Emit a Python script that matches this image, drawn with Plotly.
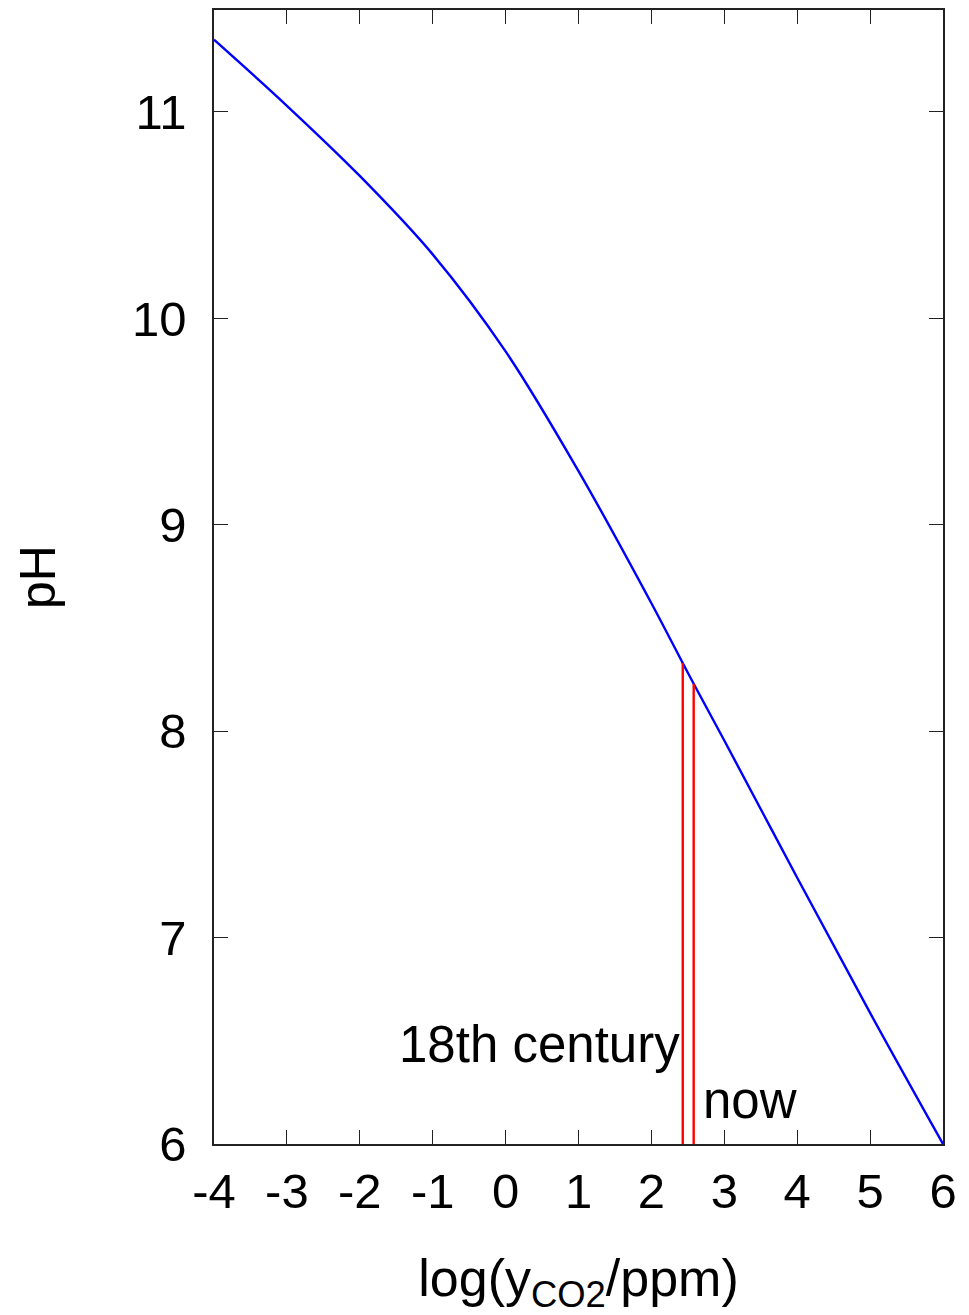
import plotly.graph_objects as go

# Data
log_co2 = [-4, -3, -2, -1, 0, 1, 2, 2.43, 2.58, 3, 4, 5, 6]
ph = [11.35, 11.03, 10.69, 10.31, 9.84, 9.26, 8.62, 8.33, 8.23, 7.955, 7.29, 6.635, 6.0]

marker_x = [2.43, 2.58]          # 18th century, now
marker_ph = [8.33, 8.23]
marker_labels = ["18th century", "now"]

x_ticks = [-4, -3, -2, -1, 0, 1, 2, 3, 4, 5, 6]
y_ticks = [6, 7, 8, 9, 10, 11]

FONT = "Liberation Sans, Arial, sans-serif"

fig = go.Figure()
fig.add_trace(go.Scatter(x=log_co2, y=ph, mode="lines",
                         line=dict(color="#0000ff", width=2.4, shape="spline", smoothing=1.0),
                         showlegend=False, hoverinfo="x+y"))
for mx, my in zip(marker_x, marker_ph):
    fig.add_trace(go.Scatter(x=[mx, mx], y=[6, my], mode="lines",
                             line=dict(color="#ff0000", width=2.4),
                             showlegend=False))

fig.add_annotation(x=marker_x[0], y=6.48, text=marker_labels[0], showarrow=False,
                   xanchor="right", yanchor="middle", xshift=-1,
                   font=dict(family=FONT, size=51, color="black"))
fig.add_annotation(x=marker_x[1], y=6.21, text=marker_labels[1], showarrow=False,
                   xanchor="left", yanchor="middle", xshift=7,
                   font=dict(family=FONT, size=51, color="black"))

axis_common = dict(showline=True, linecolor="#222222", linewidth=1.5, mirror="allticks",
                   ticks="inside", ticklen=14, tickwidth=1.2, tickcolor="#222222",
                   showgrid=False, zeroline=False,
                   tickfont=dict(family=FONT, size=49, color="black"))

fig.update_xaxes(range=[-4, 6], tickvals=x_ticks, ticktext=[str(v) for v in x_ticks],
                 ticklabelstandoff=3,
                 title=dict(text="log(y<sub>CO2</sub>/ppm)", standoff=47,
                            font=dict(family=FONT, size=52, color="black")),
                 **axis_common)
fig.update_yaxes(range=[6, 11.494], tickvals=y_ticks, ticktext=[str(v) for v in y_ticks],
                 ticklabelstandoff=16,
                 title=dict(text="pH", standoff=60,
                            font=dict(family=FONT, size=50, color="black")),
                 **axis_common)

fig.update_layout(width=969, height=1315,
                  margin=dict(l=214, r=26, t=10, b=171, autoexpand=False),
                  plot_bgcolor="white", paper_bgcolor="white",
                  font=dict(family=FONT, size=48, color="black"))

fig.write_html("out.html")
